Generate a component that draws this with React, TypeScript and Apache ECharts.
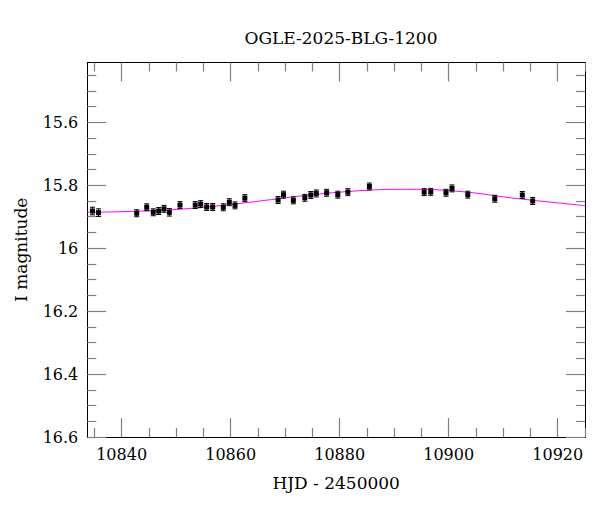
import React, { useEffect, useRef } from "react";
import * as echarts from "echarts";

const TITLE = "OGLE-2025-BLG-1200";
const X_NAME = "HJD - 2450000";
const Y_NAME = "I magnitude";

const hjd = [
  10834.65, 10835.76, 10842.76, 10844.6, 10845.8, 10846.8, 10847.77, 10848.75,
  10850.7, 10853.5, 10854.5, 10855.6, 10856.7, 10858.65, 10859.75, 10860.8,
  10862.6, 10868.7, 10869.7, 10871.5, 10873.6, 10874.7, 10875.7, 10877.6,
  10879.65, 10881.5, 10885.45, 10895.5, 10896.7, 10899.5, 10900.6, 10903.5,
  10908.45, 10913.5, 10915.4,
];
const mag = [
  15.882, 15.887, 15.889, 15.87, 15.886, 15.882, 15.875, 15.886,
  15.863, 15.863, 15.86, 15.869, 15.869, 15.87, 15.854, 15.864,
  15.841, 15.847, 15.83, 15.848, 15.84, 15.831, 15.826, 15.824,
  15.83, 15.822, 15.804, 15.822, 15.821, 15.824, 15.81, 15.83,
  15.843, 15.831, 15.85,
];
const magErr = [
  0.012, 0.012, 0.011, 0.011, 0.011, 0.011, 0.011, 0.012,
  0.011, 0.011, 0.011, 0.011, 0.011, 0.011, 0.011, 0.011,
  0.011, 0.011, 0.011, 0.011, 0.011, 0.011, 0.011, 0.011,
  0.011, 0.011, 0.011, 0.011, 0.011, 0.011, 0.011, 0.011,
  0.011, 0.011, 0.011,
];

const modelT = [
  10833.7, 10840, 10845, 10850, 10855, 10860, 10865, 10870, 10875, 10880,
  10885, 10890, 10895, 10900, 10905, 10910, 10915, 10920, 10925,
];
const modelMag = [
  15.886, 15.884, 15.881, 15.877, 15.87, 15.861, 15.851, 15.84, 15.83, 15.822,
  15.816, 15.813, 15.813, 15.817, 15.825, 15.837, 15.847, 15.856, 15.865,
];

const X_MIN = 10833.7;
const X_MAX = 10925;
const Y_MIN = 15.41;
const Y_MAX = 16.6;
const xMajor = [10840, 10860, 10880, 10900, 10920];
const xMinor = [10835, 10845, 10850, 10855, 10865, 10870, 10875, 10885, 10890, 10895, 10905, 10910, 10915, 10925];
const yMajor = [15.6, 15.8, 16.0, 16.2, 16.4, 16.6];
const yMinor = [15.45, 15.5, 15.55, 15.65, 15.7, 15.75, 15.85, 15.9, 15.95, 16.05, 16.1, 16.15, 16.25, 16.3, 16.35, 16.45, 16.5, 16.55];

const FONT = "DejaVu Serif";
const TICK_COLOR = "#808080";

function makeX(position: "top" | "bottom", ticks: number[], len: number, labels: boolean, name?: string) {
  return {
    type: "value",
    position,
    min: X_MIN,
    max: X_MAX,
    name: name || "",
    nameLocation: "middle",
    nameGap: 37,
    nameTextStyle: { fontFamily: FONT, fontSize: 17, color: "#000" },
    axisLine: { show: true, onZero: false, lineStyle: { color: "#000", width: 1 } },
    axisTick: { show: true, inside: true, length: len, customValues: ticks, lineStyle: { color: TICK_COLOR, width: 1.2 } },
    axisLabel: labels
      ? { show: true, customValues: xMajor, margin: 9, fontFamily: FONT, fontSize: 16, color: "#000", formatter: (v: number) => String(Math.round(v)) }
      : { show: false },
    splitLine: { show: false },
  };
}

function makeY(position: "left" | "right", ticks: number[], len: number, labels: boolean, name?: string) {
  return {
    type: "value",
    position,
    inverse: true,
    min: Y_MIN,
    max: Y_MAX,
    name: name || "",
    nameLocation: "middle",
    nameGap: 58,
    nameTextStyle: { fontFamily: FONT, fontSize: 17, color: "#000" },
    axisLine: { show: true, onZero: false, lineStyle: { color: "#000", width: 1 } },
    axisTick: { show: true, inside: true, length: len, customValues: ticks, lineStyle: { color: TICK_COLOR, width: 1.2 } },
    axisLabel: labels
      ? { show: true, customValues: yMajor, margin: 9, fontFamily: FONT, fontSize: 16, color: "#000", formatter: (v: number) => String(parseFloat(v.toFixed(1))) }
      : { show: false },
    splitLine: { show: false },
  };
}

export default function App() {
  const ref = useRef<HTMLDivElement>(null);
  useEffect(() => {
    if (!ref.current) return;
    const chart = echarts.init(ref.current, null, { renderer: "svg" });
    const points = hjd.map((t, i) => [t, mag[i], magErr[i]]);
    const model = modelT.map((t, i) => [t, modelMag[i]]);
    chart.setOption({
      animation: false,
      backgroundColor: "#fff",
      title: {
        text: TITLE,
        left: 336,
        textAlign: "center",
        top: 24,
        textStyle: { fontFamily: FONT, fontSize: 17, fontWeight: "normal", color: "#000" },
      },
      grid: { left: 87.3, right: 15, top: 62.5, bottom: 75, containLabel: false },
      xAxis: [
        makeX("bottom", xMajor, 19, true, X_NAME),
        makeX("bottom", xMinor, 9, false),
        makeX("top", xMajor, 19, false),
        makeX("top", xMinor, 9, false),
      ],
      yAxis: [
        makeY("left", yMajor, 19, true, Y_NAME),
        makeY("left", yMinor, 9, false),
        makeY("right", yMajor, 19, false),
        makeY("right", yMinor, 9, false),
      ],
      series: [
        {
          type: "line",
          xAxisIndex: 0,
          yAxisIndex: 0,
          data: model,
          smooth: 0.4,
          showSymbol: false,
          symbol: "none",
          lineStyle: { color: "#ff00ff", width: 1 },
          z: 2,
        },
        {
          type: "custom",
          xAxisIndex: 0,
          yAxisIndex: 0,
          data: points,
          encode: { x: 0, y: 1 },
          z: 3,
          renderItem: (params: any, api: any) => {
            const x = api.value(0);
            const y = api.value(1);
            const e = api.value(2);
            const p = api.coord([x, y]);
            const t = api.coord([x, y - e]);
            const b = api.coord([x, y + e]);
            const st = { stroke: "#000", lineWidth: 1 };
            return {
              type: "group",
              children: [
                { type: "line", shape: { x1: p[0], y1: t[1], x2: p[0], y2: b[1] }, style: st },
                { type: "line", shape: { x1: p[0] - 2.5, y1: t[1], x2: p[0] + 2.5, y2: t[1] }, style: st },
                { type: "line", shape: { x1: p[0] - 2.5, y1: b[1], x2: p[0] + 2.5, y2: b[1] }, style: st },
                { type: "rect", shape: { x: p[0] - 2.5, y: p[1] - 2.5, width: 5, height: 5 }, style: { fill: "#000" } },
              ],
            };
          },
        },
      ],
    });
    return () => chart.dispose();
  }, []);
  return (
    <div
      ref={ref}
      style={{ position: "absolute", left: 0, top: 0, width: 600, height: 512, background: "#fff" }}
    />
  );
}
